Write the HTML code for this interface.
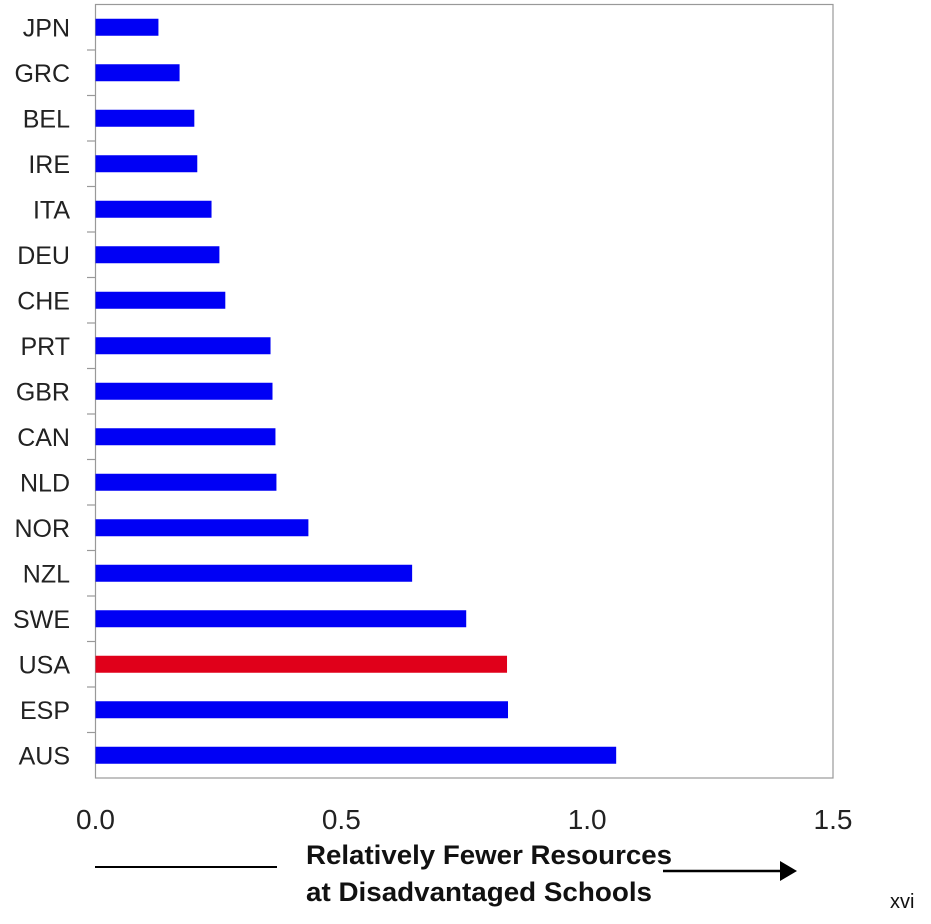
<!DOCTYPE html>
<html><head><meta charset="utf-8"><style>
body{margin:0;background:#fff;}
svg text{font-family:"Liberation Sans",sans-serif;}
</style></head><body>
<svg width="931" height="919">
<g id="plot"></g>
<line x1="95" y1="867" x2="277" y2="867" stroke="#000" stroke-width="2"/>
<line x1="663" y1="871" x2="782" y2="871" stroke="#000" stroke-width="2.5"/>
<polygon points="780,861 797,871 780,881" fill="#000"/>
<text x="306" y="864" font-size="27" font-weight="bold" fill="#111" textLength="366" lengthAdjust="spacingAndGlyphs">Relatively Fewer Resources</text>
<text x="306" y="901" font-size="27" font-weight="bold" fill="#111" textLength="346" lengthAdjust="spacingAndGlyphs">at Disadvantaged Schools</text>
<text x="890" y="908" font-size="20" fill="#111">xvi</text>
</svg>
<script>
const categories=["JPN","GRC","BEL","IRE","ITA","DEU","CHE","PRT","GBR","CAN","NLD","NOR","NZL","SWE","USA","ESP","AUS"];
const values=[0.128,0.171,0.201,0.207,0.236,0.252,0.264,0.356,0.360,0.366,0.368,0.433,0.644,0.754,0.837,0.839,1.059];
const highlight=["USA"];
const xTicks=[0.0,0.5,1.0,1.5];
const xTickLabels=["0.0","0.5","1.0","1.5"];
const L=95.5,R=833,T=4.5,B=778;
const x=v=>L+(v-0)/1.5*(R-L);
const band=(B-T)/categories.length;
const y=i=>T+band*i;
const NS="http://www.w3.org/2000/svg";
const plot=document.getElementById('plot');
function mk(tag,attrs,parent){const e=document.createElementNS(NS,tag);for(const k in attrs)e.setAttribute(k,attrs[k]);parent.appendChild(e);return e;}
const frame=mk('rect',{x:L,y:T,width:R-L,height:B-T,fill:'none',stroke:'#999','stroke-width':1.2},plot);


for(let i=1;i<categories.length;i++){
 const t=mk('line',{x1:87,x2:L,y1:y(i),y2:y(i),stroke:'#999','stroke-width':1.2},plot);
 
 
}
categories.forEach((c,i)=>{
 const cy=y(i)+band/2;
 const bh=17;
 const r=mk('rect',{x:L,y:cy-bh/2,width:x(values[i])-L,height:bh,fill:highlight.includes(c)?'#e0001a':'#0000f5'},plot);
 
 
 const t=mk('text',{x:70,y:cy+9,'text-anchor':'end','font-size':25,fill:'#222'},plot);
 t.textContent=c;
 
 
});
xTicks.forEach((v,i)=>{
 const t=mk('text',{x:x(v),y:829,'text-anchor':'middle','font-size':28,fill:'#222'},plot);
 t.textContent=xTickLabels[i];
 
 
});
</script>
</body></html>
